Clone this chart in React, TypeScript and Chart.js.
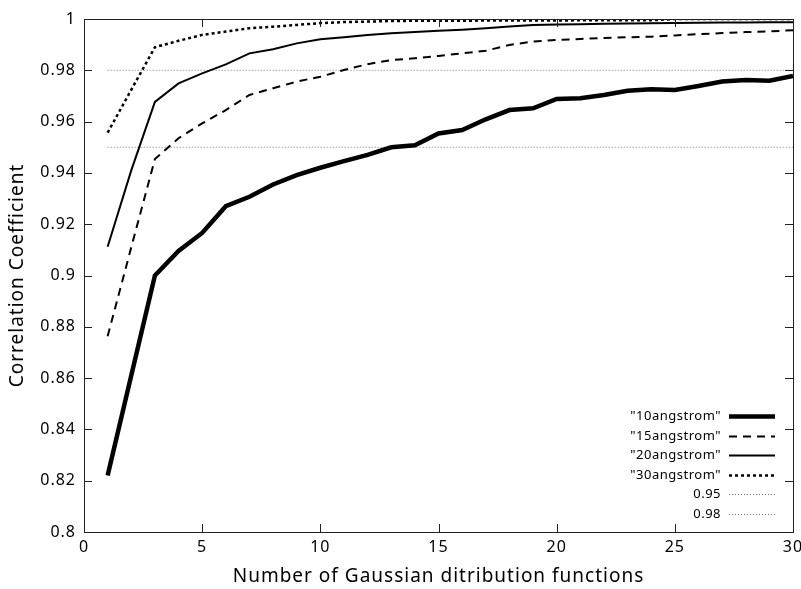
import React, { useEffect, useRef } from "react";
import { Chart, registerables } from "chart.js";

Chart.register(...registerables);

const nValues = [1, 2, 3, 4, 5, 6, 7, 8, 9, 10, 11, 12, 13, 14, 15, 16, 17, 18, 19, 20, 21, 22, 23, 24, 25, 26, 27, 28, 29, 30];

const ang10 = [0.822, 0.861, 0.900, 0.9096, 0.9166, 0.927, 0.9307, 0.9355, 0.9391, 0.9420, 0.9446, 0.9470, 0.9500, 0.9508, 0.9554, 0.9567, 0.9609, 0.9645, 0.9652, 0.9688, 0.9691, 0.9704, 0.9720, 0.9726, 0.9723, 0.9739, 0.9756, 0.9762, 0.9759, 0.9778];
const ang15 = [0.8763, 0.911, 0.9454, 0.9535, 0.9593, 0.9645, 0.9704, 0.9730, 0.9756, 0.9775, 0.9801, 0.9824, 0.9840, 0.9847, 0.9856, 0.9866, 0.9876, 0.9899, 0.9912, 0.9918, 0.9922, 0.9926, 0.9929, 0.9931, 0.9936, 0.9941, 0.9945, 0.9949, 0.9952, 0.9956];
const ang20 = [0.9112, 0.941, 0.9677, 0.9749, 0.9788, 0.9823, 0.9866, 0.9882, 0.9905, 0.9921, 0.9929, 0.9938, 0.9944, 0.9949, 0.9954, 0.9958, 0.9964, 0.9971, 0.9977, 0.9979, 0.9980, 0.9981, 0.9982, 0.9983, 0.9984, 0.9985, 0.9986, 0.9986, 0.9987, 0.9987];
const ang30 = [0.9557, 0.9724, 0.989, 0.9915, 0.9938, 0.9951, 0.9964, 0.9970, 0.9977, 0.9984, 0.9988, 0.9990, 0.9992, 0.9993, 0.9993, 0.9993, 0.9994, 0.9994, 0.9994, 0.9994, 0.9995, 0.9995, 0.9995, 0.9995, 1.0, 1.0, 1.0, 1.0, 1.0, 1.0];
const ref95 = 0.95;
const ref98 = 0.98;

const seriesLabels = ['"10angstrom"', '"15angstrom"', '"20angstrom"', '"30angstrom"', "0.95", "0.98"];
const xTitle = "Number of Gaussian ditribution functions";
const yTitle = "Correlation Coefficient";

const FONT = "'Noto Sans', 'DejaVu Sans', sans-serif";

const toPoints = (vals: number[]) => nValues.map((n, i) => ({ x: n, y: vals[i] }));

const spacingPlugin = {
  id: "letterSpacing",
  beforeUpdate(chart: any) {
    (chart.ctx as any).letterSpacing = "1px";
  },
  beforeDraw(chart: any) {
    (chart.ctx as any).letterSpacing = "1px";
  },
};

const framePlugin = {
  id: "gnuplotFrame",
  afterDatasetsDraw(chart: any) {
    const { ctx, chartArea, scales } = chart;
    const { left, right, top, bottom } = chartArea;
    const xs = scales.x;
    const ys = scales.y;
    ctx.save();
    ctx.strokeStyle = "#222";
    ctx.lineWidth = 1;
    ctx.setLineDash([]);
    ctx.strokeRect(Math.round(left) + 0.5, Math.round(top) + 0.5, Math.round(right - left), Math.round(bottom - top));
    const tl = 8;
    ctx.beginPath();
    ys.ticks.forEach((t: any) => {
      const py = Math.round(ys.getPixelForValue(t.value)) + 0.5;
      ctx.moveTo(left, py);
      ctx.lineTo(left + tl, py);
      ctx.moveTo(right, py);
      ctx.lineTo(right - tl, py);
    });
    xs.ticks.forEach((t: any) => {
      const px = Math.round(xs.getPixelForValue(t.value)) + 0.5;
      ctx.moveTo(px, bottom);
      ctx.lineTo(px, bottom - tl);
      ctx.moveTo(px, top);
      ctx.lineTo(px, top + tl);
    });
    ctx.stroke();

    // legend (gnuplot style: right-aligned text, then line sample)
    const textRight = 721;
    const sx0 = 729;
    const sx1 = 775;
    const y0 = 416;
    const dy = 19.5;
    (ctx as any).letterSpacing = "0.5px";
    ctx.font = `13px ${FONT}`;
    ctx.fillStyle = "#000";
    ctx.textAlign = "right";
    ctx.textBaseline = "middle";
    chart.data.datasets.forEach((ds: any, i: number) => {
      const yy = Math.round(y0 + i * dy) + 0.5;
      ctx.fillText(ds.label, textRight, yy);
      ctx.save();
      ctx.strokeStyle = ds.borderColor;
      ctx.lineWidth = ds.borderWidth;
      ctx.setLineDash(ds.borderDash || []);
      ctx.beginPath();
      ctx.moveTo(sx0, yy);
      ctx.lineTo(sx1, yy);
      ctx.stroke();
      ctx.restore();
    });
    ctx.restore();
  },
};

export default function App() {
  const ref = useRef<HTMLCanvasElement | null>(null);

  useEffect(() => {
    if (!ref.current) return;
    const mk = (label: string, vals: number[], width: number, dash: number[], color = "#000") => ({
      label,
      data: toPoints(vals),
      borderColor: color,
      backgroundColor: color,
      borderWidth: width,
      borderDash: dash,
      pointRadius: 0,
      fill: false,
      tension: 0,
      borderJoinStyle: "miter" as const,
    });
    const chart = new Chart(ref.current, {
      type: "line",
      data: {
        datasets: [
          mk(seriesLabels[0], ang10, 4.5, []),
          mk(seriesLabels[1], ang15, 2, [8, 6]),
          mk(seriesLabels[2], ang20, 2, []),
          mk(seriesLabels[3], ang30, 2.5, [3, 3]),
          mk(seriesLabels[4], nValues.map(() => ref95), 1, [1, 2], "#777"),
          mk(seriesLabels[5], nValues.map(() => ref98), 1, [1, 2], "#777"),
        ],
      },
      options: {
        animation: false,
        responsive: false,
        maintainAspectRatio: false,
        layout: { padding: { top: 19, right: 0, left: 0, bottom: 0 } },
        plugins: { legend: { display: false }, tooltip: { enabled: false } },
        scales: {
          x: {
            type: "linear",
            min: 0,
            max: 30,
            ticks: { stepSize: 5, padding: 6, color: "#000", font: { family: FONT, size: 16 }, maxRotation: 0 },
            grid: { display: false, drawTicks: false },
            border: { display: false },
            title: { display: true, text: xTitle, color: "#000", font: { family: FONT, size: 19 }, padding: { top: 0, bottom: 1 } },
            afterFit: (s: any) => { s.height = 57; s.paddingRight = 8; s.paddingLeft = 0; },
          },
          y: {
            type: "linear",
            min: 0.8,
            max: 1,
            ticks: {
              stepSize: 0.02,
              padding: 8,
              color: "#000",
              font: { family: FONT, size: 16 },
              callback: (v: any) => String(Number(Number(v).toFixed(2))),
            },
            grid: { display: false, drawTicks: false },
            border: { display: false },
            title: { display: true, text: yTitle, color: "#000", font: { family: FONT, size: 19 }, padding: { top: 6, bottom: 0 } },
            afterFit: (s: any) => { s.width = 84; s.paddingTop = 0; s.paddingBottom = 0; },
          },
        },
      },
      plugins: [spacingPlugin, framePlugin],
    });
    return () => chart.destroy();
  }, []);

  return (
    <div style={{ position: "fixed", left: 0, top: 0, width: 801, height: 589, background: "#fff" }}>
      <canvas ref={ref} width={801} height={589} style={{ width: 801, height: 589, display: "block" }} />
    </div>
  );
}
